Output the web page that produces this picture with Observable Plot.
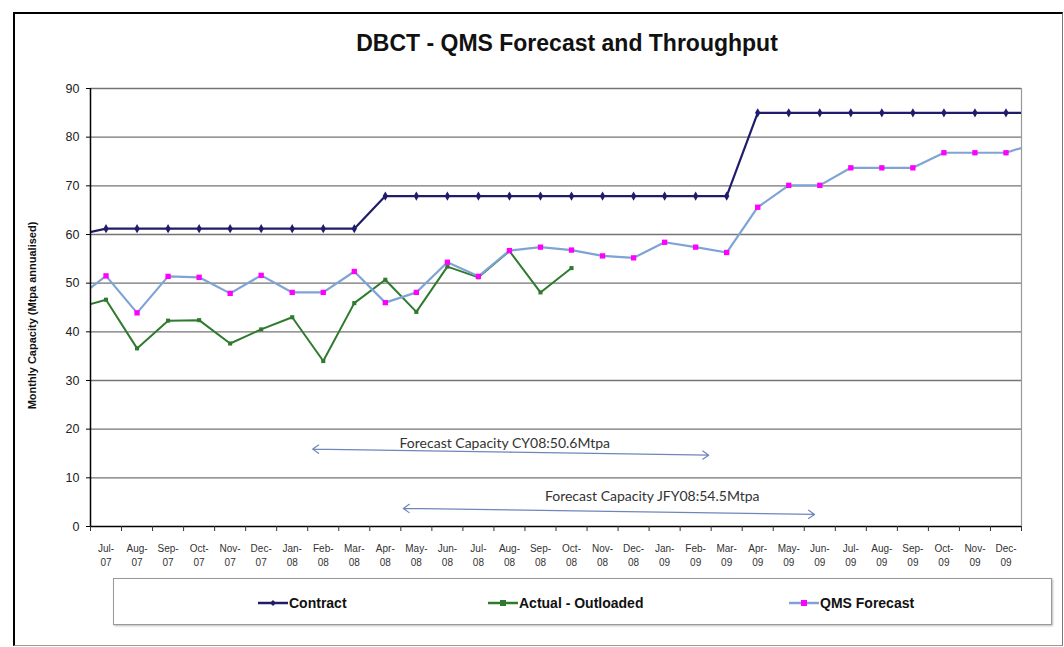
<!DOCTYPE html>
<html>
<head>
<meta charset="utf-8">
<script src="https://cdn.jsdelivr.net/npm/d3@7"></script>
<script src="https://cdn.jsdelivr.net/npm/@observablehq/plot@0.6"></script>
<style>
  body { margin: 0; background: #fff; }
  #page { position: relative; width: 1064px; height: 647px; overflow: hidden; font-family: "Liberation Sans", Arial, sans-serif; }
  #frame { position: absolute; left: 13px; top: 12px; width: 1050px; height: 634px; box-sizing: border-box;
           border-left: 2px solid #000; border-top: 2px solid #000; border-right: 1px solid #777; border-bottom: 1px solid #999; }
  #title { position: absolute; left: 0; top: 30px; width: 1134px; text-align: center; font-weight: bold; font-size: 23px; color: #111; }
  #chart { position: absolute; left: 0; top: 70px; }
  #legend { position: absolute; left: 113px; top: 578px; width: 939px; height: 47px; box-sizing: border-box;
            border: 1px solid #999; box-shadow: 1px 1px 2px #bbb; background: #fff; }
  .item { position: absolute; top: 15px; height: 18px; display: flex; align-items: center; white-space: nowrap;
          font-family: "Liberation Sans Narrow", "Arial Narrow", "Liberation Sans", Arial, sans-serif; font-weight: bold;
          font-size: 14px; color: #111; }
  .item svg { margin-right: 1px; }
</style>
</head>
<body>
<div id="page">
  <div id="frame"></div>
  <div id="title">DBCT - QMS Forecast and Throughput</div>
  <div id="chart"></div>
  <div id="legend"></div>
</div>
<script>
// Months (index 0 = Jun-07 and index 31 = Jan-10 sit just outside the visible range)
const months = ["Jun-07","Jul-07","Aug-07","Sep-07","Oct-07","Nov-07","Dec-07",
  "Jan-08","Feb-08","Mar-08","Apr-08","May-08","Jun-08","Jul-08","Aug-08","Sep-08","Oct-08","Nov-08","Dec-08",
  "Jan-09","Feb-09","Mar-09","Apr-09","May-09","Jun-09","Jul-09","Aug-09","Sep-09","Oct-09","Nov-09","Dec-09",
  "Jan-10"];

const contract = [59.8, 61.2, 61.2, 61.2, 61.2, 61.2, 61.2, 61.2, 61.2, 61.2,
  67.9, 67.9, 67.9, 67.9, 67.9, 67.9, 67.9, 67.9, 67.9, 67.9, 67.9, 67.9,
  85, 85, 85, 85, 85, 85, 85, 85, 85, 85];

const actual = [44.8, 46.6, 36.6, 42.3, 42.4, 37.6, 40.5, 43.0, 34.0, 45.9,
  50.7, 44.1, 53.4, 51.2, 56.6, 48.1, 53.1,
  null, null, null, null, null, null, null, null, null, null, null, null, null, null, null];

const qms = [46.5, 51.5, 43.9, 51.4, 51.2, 47.9, 51.6, 48.1, 48.1, 52.4,
  46.0, 48.1, 54.3, 51.4, 56.7, 57.4, 56.8, 55.6, 55.2, 58.4, 57.4, 56.3,
  65.6, 70.1, 70.1, 73.7, 73.7, 73.7, 76.8, 76.8, 76.8, 78.8];

const yTicks = [0, 10, 20, 30, 40, 50, 60, 70, 80, 90];

const seriesNames = ["Contract", "Actual - Outloaded", "QMS Forecast"];
const seriesColors = ["#1f1d6b", "#2f7a2f", "#7ea3d4"];
const markerColors = ["#1f1d6b", "#2f7a2f", "#ff00ff"];

// Annotation arrows and labels (data coordinates: month index, Mtpa)
const annArrows = [
  {x1: 7.66, y1: 15.9, x2: 20.42, y2: 14.66},
  {x1: 10.58, y1: 3.72, x2: 23.83, y2: 2.48}
];
const annLabels = [
  {x: 13.85, y: 17.13, text: "Forecast Capacity CY08:50.6Mtpa"},
  {x: 18.6, y: 6.19, text: "Forecast Capacity JFY08:54.5Mtpa"}
];

const toRows = vals => vals.map((v, i) => ({i, v})).filter(d => d.v != null);
const visible = rows => rows.filter(d => d.i >= 1 && d.i <= 30);

const cRows = toRows(contract), aRows = toRows(actual), qRows = toRows(qms);
const visibleIdx = months.map((m, i) => i).filter(i => i >= 1 && i <= 30);
const boundaries = months.map((m, i) => i + 0.5).filter(b => b <= 30.5);

const midArrows = annArrows.map(a => ({...a, mx: (a.x1 + a.x2) / 2, my: (a.y1 + a.y2) / 2}));

const chart = Plot.plot({
  width: 1064,
  height: 500,
  marginLeft: 90,
  marginRight: 43,
  marginTop: 18,
  marginBottom: 44,
  x: {type: "linear", domain: [0.5, 30.5]},
  y: {domain: [0, 90]},
  style: {fontFamily: "Liberation Sans, Arial, sans-serif", background: "transparent"},
  marks: [
    Plot.ruleY(yTicks.filter(t => t > 0), {stroke: "#747474", strokeWidth: 1.3}),
    Plot.ruleX([30.5], {stroke: "#999", strokeWidth: 1.2}),
    // Contract
    Plot.line(cRows, {x: "i", y: "v", stroke: seriesColors[0], strokeWidth: 2.2, clip: true}),
    Plot.dot(visible(cRows), {x: "i", y: "v", symbol: "diamond", r: 2.8, fill: markerColors[0], stroke: null}),
    // Actual
    Plot.line(aRows, {x: "i", y: "v", stroke: seriesColors[1], strokeWidth: 2, clip: true}),
    Plot.dot(visible(aRows), {x: "i", y: "v", symbol: "square", r: 2.3, fill: markerColors[1], stroke: null}),
    // QMS
    Plot.line(qRows, {x: "i", y: "v", stroke: seriesColors[2], strokeWidth: 2.2, clip: true}),
    Plot.dot(visible(qRows), {x: "i", y: "v", symbol: "square", r: 3, fill: markerColors[2], stroke: null}),
    // annotations
    Plot.arrow(midArrows, {x1: "mx", y1: "my", x2: "x1", y2: "y1", stroke: "#6f86bb", strokeWidth: 1.2, headLength: 9, headAngle: 70}),
    Plot.arrow(midArrows, {x1: "mx", y1: "my", x2: "x2", y2: "y2", stroke: "#6f86bb", strokeWidth: 1.2, headLength: 9, headAngle: 70}),
    Plot.text(annLabels, {x: "x", y: "y", text: "text", fontSize: 14, fill: "#333",
      fontFamily: "Lato, 'Open Sans', sans-serif"}),
    // axes lines
    Plot.ruleX([0.5], {stroke: "#000", strokeWidth: 1.5}),
    Plot.ruleY([0], {stroke: "#000", strokeWidth: 1.5}),
    Plot.axisY({ticks: yTicks, tickSize: 4, tickPadding: 7, fontSize: 12.5, fill: "#222", label: null}),
    Plot.text(["Monthly Capacity (Mtpa annualised)"], {frameAnchor: "left", textAnchor: "middle", rotate: -90, dx: -58, dy: 8,
      fontSize: 11, fontWeight: "bold", fill: "#111", ariaLabel: "ytitle"}),
    Plot.axisX({ticks: visibleIdx, tickSize: 0, tickPadding: 16, fontSize: 10, lineHeight: 1.4, fill: "#333",
      tickFormat: i => { const p = months[i].split("-"); return p[0] + "-\n" + p[1]; }, label: null}),
    Plot.axisX({ticks: boundaries, tickSize: 5, tickFormat: () => "", label: null, stroke: "#333"})
  ]
});
d3.select(chart).selectAll('g[aria-label="ytitle"] text').style("letter-spacing", "1px");
document.getElementById("chart").appendChild(chart);

// Legend
const legendPos = [144, 374, 675];
const legend = document.getElementById("legend");
seriesNames.forEach((name, k) => {
  const item = document.createElement("div");
  item.className = "item";
  item.style.left = legendPos[k] + "px";
  let marker;
  if (k === 0) marker = `<path d="M15,2 L18,5 L15,8 L12,5 Z" fill="${markerColors[k]}"/>`;
  else marker = `<rect x="12" y="2" width="6" height="6" fill="${markerColors[k]}"/>`;
  item.innerHTML = `<svg width="30" height="10"><line x1="0" y1="5" x2="30" y2="5" stroke="${seriesColors[k]}" stroke-width="2.5"/>${marker}</svg><span>${name}</span>`;
  legend.appendChild(item);
});
</script>
</body>
</html>
